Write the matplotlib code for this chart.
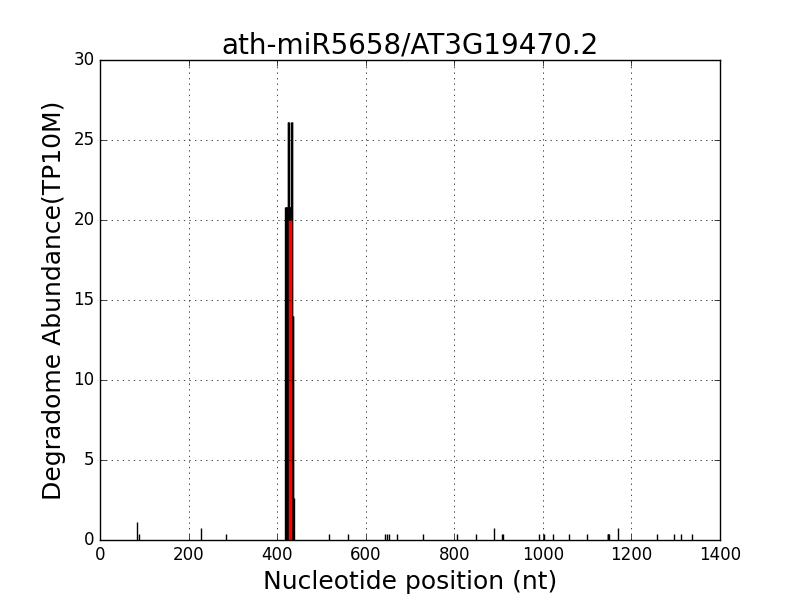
import matplotlib
matplotlib.use('Agg')
import matplotlib.pyplot as plt

plt.style.use('classic')

title = 'ath-miR5658/AT3G19470.2'

# degradome tags: position (nt) and abundance (TP10M)
positions = [83, 89, 229, 285, 518, 561, 643, 647, 652, 671,
             729, 805, 850, 890, 908, 909, 992, 1002, 1024, 1060, 1100,
             1146, 1147, 1148, 1149, 1169, 1257, 1295, 1313, 1336,
             418, 419, 420, 421, 422, 423, 424, 425, 426, 427, 428, 429, 430,
             431, 432, 433, 434, 435, 436, 437]
abundance = [1.1, 0.37, 0.73, 0.37, 0.37, 0.37, 0.37, 0.37, 0.37, 0.37,
             0.37, 0.37, 0.37, 0.73, 0.37, 0.37, 0.37, 0.37, 0.37, 0.37, 0.37,
             0.37, 0.37, 0.37, 0.37, 0.73, 0.37, 0.37, 0.37, 0.37,
             20.8, 20.8, 20.8, 20.8, 20.8, 20.8, 26.1, 26.1, 26.1, 20.8, 20.8, 20.8, 20.8,
             20.8, 26.1, 26.1, 26.1, 14.0, 14.0, 2.6]

# predicted cleavage site
site_pos = [429]
site_val = [20.0]

fig = plt.figure(figsize=(8, 6), dpi=100)
ax = fig.add_subplot(111)
ax.vlines(positions, 0, abundance, colors='k', linewidth=1)
ax.vlines(site_pos, 0, site_val, colors='r', linewidth=2.5)

ax.set_xlim(0, 1400)
ax.set_ylim(0, 30)
ax.grid(True)
ax.set_title(title, fontsize=20)
ax.set_xlabel('Nucleotide position (nt)', fontsize=18)
ax.set_ylabel('Degradome Abundance(TP10M)', fontsize=18)

plt.savefig('out.png', dpi=100)
